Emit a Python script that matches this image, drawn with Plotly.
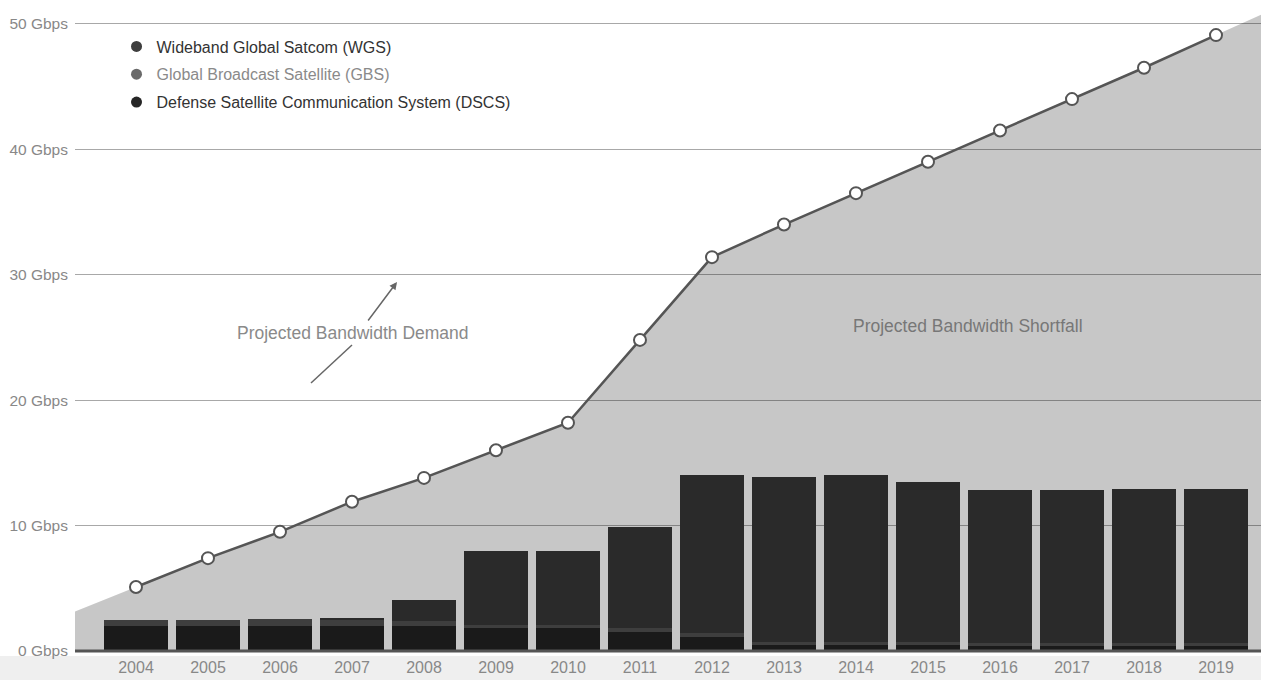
import plotly.graph_objects as go

# Bandwidth demand vs. military satcom capacity, Gbps
years = list(range(2004, 2020))
demand = [5.1, 7.4, 9.5, 11.9, 13.8, 16.0, 18.2, 24.8, 31.4, 34.0, 36.5, 39.0, 41.5, 44.0, 46.5, 49.1]
dscs = [2.0, 2.0, 2.0, 2.0, 2.0, 1.8, 1.8, 1.5, 1.1, 0.5, 0.5, 0.5, 0.4, 0.4, 0.4, 0.4]
gbs = [0.5, 0.5, 0.55, 0.5, 0.4, 0.3, 0.3, 0.3, 0.3, 0.2, 0.2, 0.2, 0.2, 0.2, 0.2, 0.2]
wgs = [0.0, 0.0, 0.0, 0.1, 1.7, 5.9, 5.9, 8.1, 12.6, 13.2, 13.3, 12.8, 12.2, 12.2, 12.3, 12.3]

y_ticks = [0, 10, 20, 30, 40, 50]
y_labels = [f"{v} Gbps" for v in y_ticks]

X_RANGE = [2003.153, 2019.625]
Y_RANGE = [-0.4, 51.9]

FONT = "Liberation Sans, Arial, sans-serif"
C_WGS = "#363636"
C_GBS = "#505050"
C_DSCS = "#222222"

# shaded demand region, extended linearly to both edges of the plot
lo_slope = demand[1] - demand[0]
hi_slope = demand[-1] - demand[-2]
fill_x = [X_RANGE[0]] + years + [X_RANGE[1]]
fill_y = ([demand[0] - (years[0] - X_RANGE[0]) * lo_slope] + demand +
          [demand[-1] + (X_RANGE[1] - years[-1]) * hi_slope])

fig = go.Figure()

fig.add_trace(go.Scatter(
    x=fill_x, y=fill_y, mode="none", fill="tozeroy",
    fillcolor="rgba(0,0,0,0.22)", showlegend=False, hoverinfo="skip"))

for name, vals, col in [("DSCS", dscs, C_DSCS), ("GBS", gbs, C_GBS), ("WGS", wgs, C_WGS)]:
    fig.add_trace(go.Bar(x=years, y=vals, name=name, marker=dict(color=col, line_width=0),
                         width=0.9, showlegend=False))

fig.add_trace(go.Scatter(
    x=years, y=demand, mode="lines+markers", showlegend=False,
    line=dict(color="#555555", width=2.5),
    marker=dict(size=12, color="white", line=dict(color="#555555", width=2))))

# legend entries
legend_items = [
    ("Wideband Global Satcom (WGS)", "#3e3e3e", "#333333"),
    ("Global Broadcast Satellite (GBS)", "#6a6a6a", "#8a8a8a"),
    ("Defense Satellite Communication System (DSCS)", "#262626", "#333333"),
]
for i, (label, mcol, tcol) in enumerate(legend_items):
    fig.add_trace(go.Scatter(
        x=[None], y=[None], mode="markers", legendgroup=f"g{i}",
        name=f"<span style='color:{tcol}'>{label}</span>",
        marker=dict(size=11, color=mcol)))

# baseline
fig.add_shape(type="line", xref="paper", yref="y", x0=0, x1=1, y0=0, y1=0,
              line=dict(color="#555555", width=3), layer="above")

# light strip under the axis
fig.add_shape(type="rect", xref="paper", yref="paper", x0=-0.07, x1=1.0, y0=-0.04, y1=0.0,
              fillcolor="#efefef", line_width=0, layer="below")

# annotation arrow for demand
fig.add_shape(type="line", xref="paper", yref="paper",
              x0=(311 - 75) / 1186, y0=1 - 383 / 656, x1=(352 - 75) / 1186, y1=1 - 345 / 656,
              line=dict(color="#666666", width=1.5))
fig.add_annotation(xref="paper", yref="paper", x=(397 - 75) / 1186, y=1 - 282 / 656,
                   ax=-30, ay=40, text="", showarrow=True, arrowhead=2, arrowsize=1,
                   arrowwidth=1.5, arrowcolor="#666666")
fig.add_annotation(xref="paper", yref="paper", x=(353 - 75) / 1186, y=1 - 333 / 656,
                   xanchor="center", yanchor="middle",
                   text="Projected Bandwidth Demand", showarrow=False,
                   font=dict(family=FONT, size=17.5, color="#8a8a8a"))
fig.add_annotation(xref="paper", yref="paper", x=(968 - 75) / 1186, y=1 - 326 / 656,
                   xanchor="center", yanchor="middle",
                   text="Projected Bandwidth Shortfall", showarrow=False,
                   font=dict(family=FONT, size=17.5, color="#777777"))

fig.update_layout(
    width=1261, height=680,
    margin=dict(l=75, r=0, t=0, b=24),
    paper_bgcolor="white", plot_bgcolor="white",
    barmode="stack",
    font=dict(family=FONT, color="#888888"),
    legend=dict(x=0.035, y=0.955, xanchor="left", yanchor="top",
                bgcolor="rgba(0,0,0,0)", tracegroupgap=4,
                font=dict(family=FONT, size=16, color="#333333")),
    xaxis=dict(range=X_RANGE, tickmode="array", tickvals=years,
               ticktext=[str(y) for y in years], showgrid=False, zeroline=False,
               showline=False, ticks="", tickfont=dict(size=16, color="#888888")),
    yaxis=dict(range=Y_RANGE, tickmode="array", tickvals=y_ticks, ticktext=y_labels,
               showgrid=True, gridcolor="#a8a8a8", gridwidth=1, zeroline=False,
               showline=False, ticks="", ticklabelstandoff=6,
               tickfont=dict(size=15.5, color="#888888")),
)

fig.write_html("out.html")
